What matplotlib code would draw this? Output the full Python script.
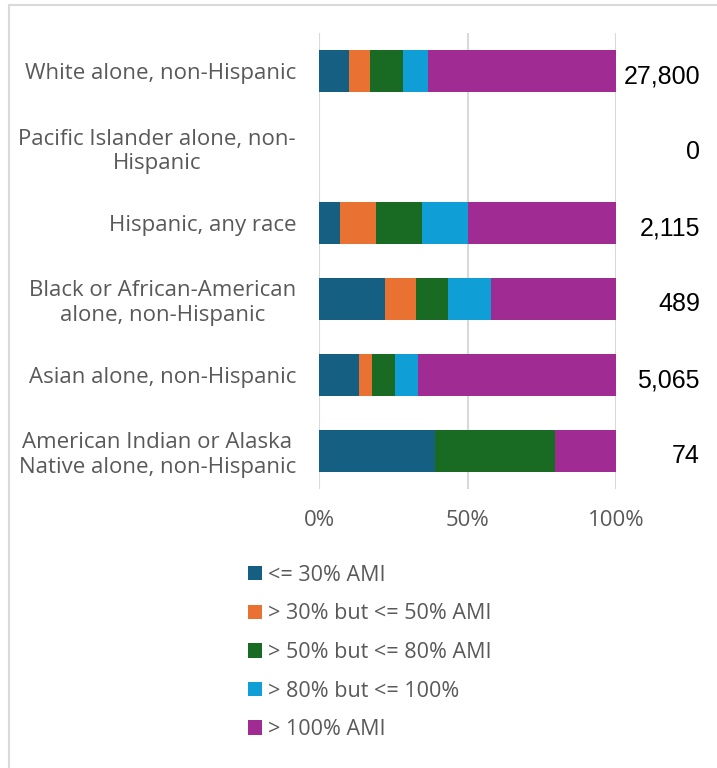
import numpy as np
import matplotlib.pyplot as plt
from matplotlib.lines import Line2D
from matplotlib.patches import Patch
from matplotlib.transforms import blended_transform_factory

categories = [
    "White alone, non-Hispanic",
    "Pacific Islander alone, non-\nHispanic",
    "Hispanic, any race",
    "Black or African-American\nalone, non-Hispanic",
    "Asian alone, non-Hispanic",
    "American Indian or Alaska\nNative alone, non-Hispanic",
]
totals = ["27,800", "0", "2,115", "489", "5,065", "74"]

series_names = ["<= 30% AMI", "> 30% but <= 50% AMI", "> 50% but <= 80% AMI",
                "> 80% but <= 100%", "> 100% AMI"]
le30 = [10.1, 0, 7.1, 22.1, 13.5, 39.0]
le50 = [7.0, 0, 12.0, 10.4, 4.3, 0]
le80 = [11.1, 0, 15.5, 11.1, 7.9, 40.3]
le100 = [8.5, 0, 15.6, 14.3, 7.6, 0]
gt100 = [63.3, 0, 49.8, 42.1, 66.7, 20.7]
series = [le30, le50, le80, le100, gt100]
colors = ["#156082", "#E97132", "#196B24", "#0F9ED5", "#A02B93"]

plt.rcParams['font.family'] = ['Open Sans', 'DejaVu Sans']

fig = plt.figure(figsize=(7.17, 7.68), dpi=100)
ax = fig.add_axes([319 / 717, 1 - 489 / 768, 297 / 717, 456 / 768])

y = np.arange(len(categories))
left = np.zeros(len(categories))
for vals, name, c in zip(series, series_names, colors):
    ax.barh(y, vals, left=left, height=0.55, color=c, label=name, zorder=3)
    left += np.array(vals)

ax.set_xlim(0, 100)
ax.set_ylim(len(categories) - 0.5, -0.5)
ax.set_xticks([0, 50, 100])
ax.set_xticklabels(["0%", "50%", "100%"])
ax.set_yticks(y)
ax.set_yticklabels(categories, ma='center')
ax.tick_params(axis='both', length=0, labelsize=16, labelcolor='#595959')
ax.tick_params(axis='y', pad=16.5)
ax.tick_params(axis='x', pad=15)
ax.grid(axis='x', color='#d9d9d9', linewidth=1.5, zorder=0)
for s in ax.spines.values():
    s.set_visible(False)

# totals column on the right
trans = blended_transform_factory(fig.transFigure, ax.transData)
for yi, t in zip(y, totals):
    ax.text(700 / 717, yi + 0.07, t, transform=trans,
            ha='right', va='center', fontsize=18, color='black', family='Liberation Sans')

handles = [Patch(facecolor=c) for c in colors]
fig.legend(handles, series_names, loc='upper left', bbox_to_anchor=(239 / 717, 1 - 556 / 768),
           frameon=False, fontsize=15.5, labelcolor='#595959', handlelength=0.65, handleheight=0.65,
           handletextpad=0.3, labelspacing=0.82, borderaxespad=0)

# chart frame
fig.add_artist(Line2D([8.5 / 717, 8.5 / 717], [0, 1 - 5 / 768], transform=fig.transFigure,
                      color='#d9d9d9', linewidth=1.5))
fig.add_artist(Line2D([8.5 / 717, 1], [1 - 5 / 768, 1 - 5 / 768], transform=fig.transFigure,
                      color='#d9d9d9', linewidth=1.5))

fig.savefig("out.png", dpi=100)
